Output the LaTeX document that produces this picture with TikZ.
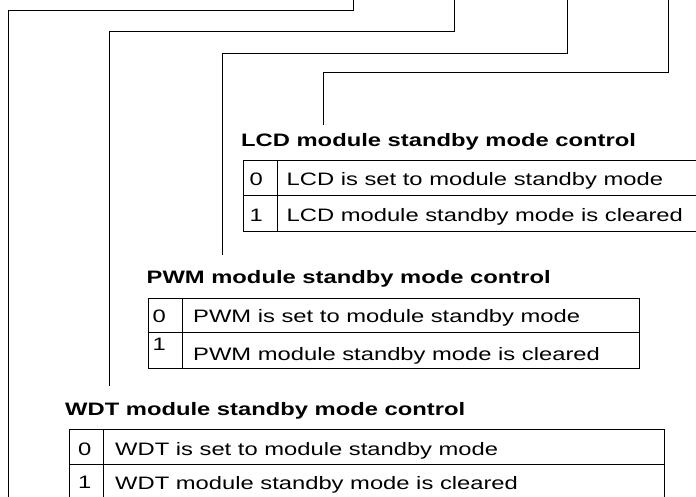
\documentclass[tikz,border=0pt]{standalone}
\usepackage{fontspec}
\setmainfont{Liberation Sans}[FakeStretch=1.32]
\begin{document}
\begin{tikzpicture}[x=1pt,y=-1pt,
  wire/.style={line width=1pt},
  tbl/.style={line width=1pt},
  title/.style={anchor=base west, inner sep=0pt, font=\fontsize{18}{20}\selectfont\bfseries},
  cell/.style={anchor=base west, inner sep=0pt, font=\fontsize{18}{20}\selectfont}]
\useasboundingbox (0,0) rectangle (696,497);
\clip (0,0) rectangle (696,497);

% connector end points
\coordinate (w1t) at (353,-2);
\coordinate (w1a) at (353,11);
\coordinate (w1b) at (8,11);
\coordinate (w1e) at (8,502);
\coordinate (w2t) at (454,-2);
\coordinate (w2a) at (454,32);
\coordinate (w2b) at (109,32);
\coordinate (w2e) at (109,386);
\coordinate (w3t) at (567,-2);
\coordinate (w3a) at (567,54);
\coordinate (w3b) at (222,54);
\coordinate (w3e) at (222,255);
\coordinate (w4t) at (668,-2);
\coordinate (w4a) at (668,73);
\coordinate (w4b) at (323,73);
\coordinate (w4e) at (323,125);

\draw[wire] (w1t) -- (w1a) -- (w1b) -- (w1e);
\draw[wire] (w2t) -- (w2a) -- (w2b) -- (w2e);
\draw[wire] (w3t) -- (w3a) -- (w3b) -- (w3e);
\draw[wire] (w4t) -- (w4a) -- (w4b) -- (w4e);

% LCD
\node[title] (lcdT) at (241,147) {LCD module standby mode control};
\draw[tbl] (243,161) rectangle (704,232);
\draw[tbl] (243,196) -- (704,196);
\draw[tbl] (277,161) -- (277,232);
\node[cell] (lcd0) at (249.5,186) {0};
\node[cell] (lcd1) at (249.5,222) {1};
\node[cell] (lcd0t) at (286.5,186) {LCD is set to module standby mode};
\node[cell] (lcd1t) at (286.5,222) {LCD module standby mode is cleared};

% PWM
\node[title] (pwmT) at (146.5,283) {PWM module standby mode control};
\draw[tbl] (148,298) rectangle (639,368);
\draw[tbl] (148,332) -- (639,332);
\draw[tbl] (182,298) -- (182,368);
\node[cell] (pwm0) at (152.5,322.5) {0};
\node[cell] (pwm1) at (152.5,350.5) {1};
\node[cell] (pwm0t) at (193,322.5) {PWM is set to module standby mode};
\node[cell] (pwm1t) at (193,360) {PWM module standby mode is cleared};

% WDT
\node[title] (wdtT) at (65,415) {WDT module standby mode control};
\draw[tbl] (69,429) rectangle (664,504);
\draw[tbl] (69,464) -- (664,464);
\draw[tbl] (103,429) -- (103,504);
\node[cell] (wdt0) at (78,455) {0};
\node[cell] (wdt1) at (78,488) {1};
\node[cell] (wdt0t) at (115,455) {WDT is set to module standby mode};
\node[cell] (wdt1t) at (115,489) {WDT module standby mode is cleared};
\end{tikzpicture}
\end{document}
